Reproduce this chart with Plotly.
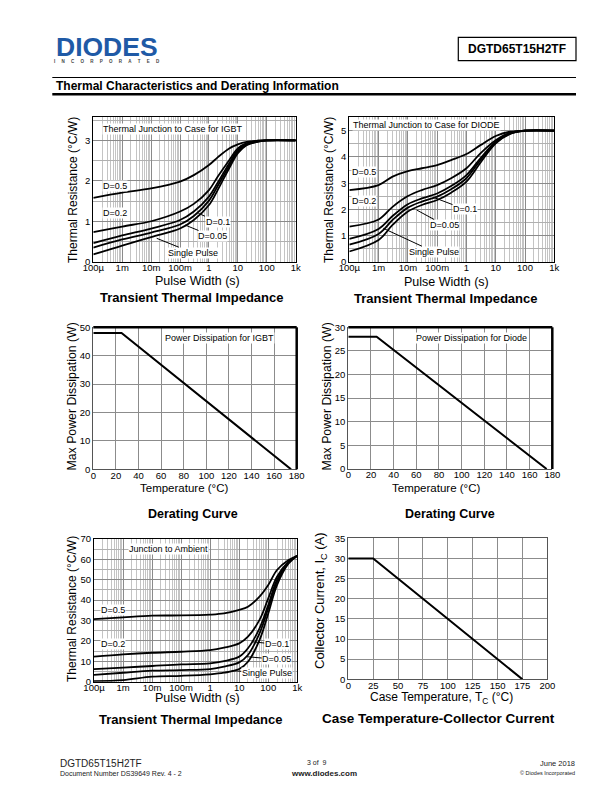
import plotly.graph_objects as go

# ---------------- data ----------------
PW_TICKVALS = [1e-4, 1e-3, 1e-2, 1e-1, 1, 10, 100, 1000]
PW_TICKTEXT = ["100µ", "1m", "10m", "100m", "1", "10", "100", "1k"]

# IGBT junction-to-case transient impedance (°C/W)
igbt_t = [1e-4, 1e-3, 1e-2, 0.1, 0.3, 1, 2, 5, 10, 20, 50, 100, 1000]
igbt_d05 = [1.58, 1.71, 1.81, 1.98, 2.14, 2.39, 2.58, 2.80, 2.90, 2.96, 2.99, 3.0, 3.0]
igbt_d02 = [0.73, 0.87, 1.00, 1.24, 1.43, 1.77, 2.10, 2.51, 2.80, 2.93, 2.99, 3.0, 3.0]
igbt_d01 = [0.46, 0.65, 0.82, 1.03, 1.24, 1.61, 1.95, 2.43, 2.76, 2.91, 2.98, 3.0, 3.0]
igbt_d005 = [0.35, 0.55, 0.72, 0.92, 1.13, 1.51, 1.87, 2.37, 2.72, 2.89, 2.97, 3.0, 3.0]
igbt_single = [0.18, 0.40, 0.61, 0.82, 1.03, 1.40, 1.77, 2.31, 2.68, 2.88, 2.97, 3.0, 3.0]

# Diode junction-to-case transient impedance (°C/W)
diode_t = [1e-4, 1e-3, 3e-3, 1e-2, 3e-2, 0.1, 0.3, 1, 3, 10, 30, 100, 1000]
diode_d05 = [2.74, 2.93, 3.25, 3.46, 3.57, 3.69, 3.88, 4.11, 4.45, 4.80, 4.96, 5.0, 5.0]
diode_d02 = [1.35, 1.62, 2.10, 2.51, 2.74, 2.93, 3.19, 3.57, 4.14, 4.64, 4.92, 5.0, 5.0]
diode_d01 = [0.88, 1.26, 1.75, 2.20, 2.42, 2.61, 2.89, 3.31, 3.95, 4.58, 4.90, 5.0, 5.0]
diode_d005 = [0.66, 1.07, 1.60, 2.07, 2.30, 2.49, 2.77, 3.19, 3.88, 4.54, 4.89, 5.0, 5.0]
diode_single = [0.40, 0.84, 1.41, 1.92, 2.17, 2.36, 2.64, 3.06, 3.78, 4.52, 4.87, 5.0, 5.0]

# Junction-to-ambient transient impedance (°C/W)
amb_t = [1e-4, 1e-3, 1e-2, 0.1, 1, 3, 10, 20, 50, 100, 200, 500, 1000]
amb_d05 = [30.7, 31.6, 32.4, 32.5, 32.9, 33.5, 35.2, 36.8, 41.7, 47.4, 54.8, 59.7, 61.8]
amb_d02 = [12.3, 13.4, 14.2, 14.7, 15.5, 16.7, 18.8, 22.1, 30.3, 40.9, 51.5, 58.9, 61.8]
amb_d01 = [6.2, 6.9, 7.7, 8.5, 9.0, 10.1, 12.3, 16.4, 26.2, 37.6, 49.9, 58.6, 61.8]
amb_d005 = [3.3, 4.4, 5.4, 5.7, 6.2, 7.4, 9.5, 13.1, 23.7, 36.0, 49.0, 58.4, 61.8]
amb_single = [0.3, 0.8, 2.5, 2.9, 3.6, 4.4, 6.2, 9.8, 20.4, 33.5, 47.4, 58.0, 61.8]

# Derating curves
temp_c = [0, 25, 175]
igbt_pd_w = [48, 48, 0]
diode_pd_w = [28, 28, 0]
ic_a = [30, 30, 0]

# ---------------- helpers ----------------
W, H = 612, 792
REG = "Liberation Sans, Arial, sans-serif"


def px(x):
    return x / W


def py(y):
    return 1 - y / H


fig = go.Figure()
annotations = []
shapes = []


def txt(x, y, s, size, bold=False, xanchor="center", angle=0,
        bg=None, color="black"):
    if bold:
        s = "<b>" + s + "</b>"
    a = dict(x=px(x), y=py(y), xref="paper", yref="paper", text=s,
             showarrow=False, xanchor=xanchor, yanchor="middle",
             textangle=angle, font=dict(size=size, family=REG, color=color))
    if bg:
        a.update(bgcolor=bg, borderpad=0)
    annotations.append(a)


def leader(tipx, tipy, tx, ty, s, size=9):
    annotations.append(dict(
        x=px(tipx), y=py(tipy), xref="paper", yref="paper", text=s,
        showarrow=True, arrowhead=0, arrowwidth=1, arrowcolor="black",
        ax=tx - tipx, ay=ty - tipy, bgcolor="white", borderpad=0,
        font=dict(size=size, family=REG, color="black")))


LAYOUT = {}


def ids(n):
    if n == 1:
        return "xaxis", "yaxis", "x", "y"
    return "xaxis%d" % n, "yaxis%d" % n, "x%d" % n, "y%d" % n


def log_axes(n, x0, x1, y0, y1, yrange, ytick, ymin):
    xa, ya, xid, yid = ids(n)
    LAYOUT[xa] = dict(
        type="log", domain=[px(x0), px(x1)], range=[-4, 3], anchor=yid,
        tickvals=PW_TICKVALS, ticktext=PW_TICKTEXT, ticks="", automargin=False,
        ticklabelstandoff=-3,
        showgrid=True, gridcolor="#8a8a8a", gridwidth=1,
        minor=dict(dtick="D1", showgrid=True, gridcolor="#c4c4c4", gridwidth=1),
        showline=True, linecolor="black", linewidth=1, mirror=True,
        zeroline=False, tickfont=dict(size=9.5, family=REG, color="black"))
    LAYOUT[ya] = dict(
        domain=[py(y1), py(y0)], range=yrange, anchor=xid, dtick=ytick,
        ticks="", showgrid=True, gridcolor="#8a8a8a", gridwidth=1, automargin=False,
        minor=dict(dtick=ymin, showgrid=True, gridcolor="#b0b0b0", gridwidth=1),
        showline=True, linecolor="black", linewidth=1, mirror=True,
        zeroline=False, tickfont=dict(size=9.5, family=REG, color="black"))
    return xid, yid


def lin_axes(n, x0, x1, y0, y1, xrange, xdt, yrange, ydt, thick=True):
    xa, ya, xid, yid = ids(n)
    LAYOUT[xa] = dict(
        domain=[px(x0), px(x1)], range=xrange, dtick=xdt, anchor=yid,
        ticks="", showgrid=True, gridcolor="#8c8c8c", gridwidth=1, automargin=False,
        ticklabelstandoff=-3,
        showline=True, linecolor="#555555", linewidth=1, mirror=not thick,
        zeroline=False, tickfont=dict(size=9.5, family=REG, color="black"))
    LAYOUT[ya] = dict(
        domain=[py(y1), py(y0)], range=yrange, dtick=ydt, anchor=xid,
        ticks="", showgrid=True, gridcolor="#8c8c8c", gridwidth=1, automargin=False,
        showline=True, linecolor="#555555", linewidth=1, mirror=not thick,
        zeroline=False, tickfont=dict(size=9.5, family=REG, color="black"))
    if thick:
        shapes.append(dict(type="line", xref="paper", yref="paper",
                           x0=px(x0), x1=px(x1), y0=py(y0), y1=py(y0),
                           line=dict(color="black", width=2.5)))
        shapes.append(dict(type="line", xref="paper", yref="paper",
                           x0=px(x1), x1=px(x1), y0=py(y0), y1=py(y1),
                           line=dict(color="black", width=2.5)))
    return xid, yid


def curves(xid, yid, t, series):
    for name, vals in series:
        fig.add_trace(go.Scatter(
            x=t, y=vals, xaxis=xid, yaxis=yid, mode="lines", name=name,
            line=dict(color="black", width=1.8, shape="spline", smoothing=1.0),
            showlegend=False, hoverinfo="skip"))


# ---------------- chart 1: IGBT transient ----------------
xid, yid = log_axes(1, 93.3, 295.7, 117.3, 261.7, [0, 3.57], 1, 0.5)
curves(xid, yid, igbt_t, [("D=0.5", igbt_d05), ("D=0.2", igbt_d02),
                          ("D=0.1", igbt_d01), ("D=0.05", igbt_d005),
                          ("Single Pulse", igbt_single)])
txt(102, 129, "Thermal Junction to Case for IGBT", 9, xanchor="left", bg="white")
txt(102, 186, "D=0.5", 9, xanchor="left", bg="white")
txt(102, 212.5, "D=0.2", 9, xanchor="left", bg="white")
leader(198.3, 213.3, 217.5, 221.7, "D=0.1")
leader(185, 225, 212, 236, "D=0.05")
leader(156.7, 238.3, 192.5, 252.7, "Single Pulse")
txt(73, 190, "Thermal Resistance (°C/W)", 12, angle=-90)
txt(197, 281, "Pulse Width (s)", 12.5)
txt(191.5, 297.5, "Transient Thermal Impedance", 13, bold=True)

# ---------------- chart 2: DIODE transient ----------------
xid, yid = log_axes(2, 349.3, 554.3, 117.3, 262, [0, 5.51], 1, 0.5)
curves(xid, yid, diode_t, [("D=0.5", diode_d05), ("D=0.2", diode_d02),
                           ("D=0.1", diode_d01), ("D=0.05", diode_d005),
                           ("Single Pulse", diode_single)])
txt(352, 125, "Thermal Junction to Case for DIODE", 9, xanchor="left", bg="white")
txt(351, 171.7, "D=0.5", 9, xanchor="left", bg="white")
txt(351, 200.7, "D=0.2", 9, xanchor="left", bg="white")
leader(433.3, 197.3, 465, 209.3, "D=0.1")
leader(416.7, 210, 444.3, 225, "D=0.05")
leader(383.3, 228.3, 433.7, 251.7, "Single Pulse")
txt(329, 190, "Thermal Resistance (°C/W)", 12, angle=-90)
txt(446, 282, "Pulse Width (s)", 12.5)
txt(446, 298.5, "Transient Thermal Impedance", 13, bold=True)

# ---------------- chart 3: IGBT derating ----------------
xid, yid = lin_axes(3, 93.3, 296.7, 327.3, 469.3, [0, 180], 20, [0, 50], 10)
fig.add_trace(go.Scatter(x=temp_c, y=igbt_pd_w, xaxis=xid, yaxis=yid,
                         mode="lines", line=dict(color="black", width=2),
                         showlegend=False, hoverinfo="skip"))
txt(219, 338.3, "Power Dissipation for IGBT", 9, bg="white")
txt(71, 396.5, "Max Power Dissipation (W)", 12.3, angle=-90)
txt(184, 488, "Temperature (°C)", 11.5)
txt(192.5, 514, "Derating Curve", 12.5, bold=True)

# ---------------- chart 4: Diode derating ----------------
xid, yid = lin_axes(4, 348.3, 552.3, 327.3, 469, [0, 180], 20, [0, 30], 5)
fig.add_trace(go.Scatter(x=temp_c, y=diode_pd_w, xaxis=xid, yaxis=yid,
                         mode="lines", line=dict(color="black", width=2),
                         showlegend=False, hoverinfo="skip"))
txt(471.7, 338.3, "Power Dissipation for Diode", 9, bg="white")
txt(326, 396.5, "Max Power Dissipation (W)", 12.3, angle=-90)
txt(436, 488, "Temperature (°C)", 11.5)
txt(449.5, 514, "Derating Curve", 12.5, bold=True)

# ---------------- chart 5: junction to ambient ----------------
xid, yid = log_axes(5, 94, 297.3, 539, 681.7, [0, 70], 10, 5)
curves(xid, yid, amb_t, [("D=0.5", amb_d05), ("D=0.2", amb_d02),
                         ("D=0.1", amb_d01), ("D=0.05", amb_d005),
                         ("Single Pulse", amb_single)])
txt(168, 549, "Junction to Ambient", 9, bg="white")
txt(100, 610, "D=0.5", 9, xanchor="left", bg="white")
txt(100, 644, "D=0.2", 9, xanchor="left", bg="white")
leader(251.7, 641.7, 276.7, 644.3, "D=0.1")
leader(246.7, 656.7, 276.7, 659.3, "D=0.05")
leader(231.7, 670.7, 266.7, 672.7, "Single Pulse")
txt(72, 609, "Thermal Resistance (°C/W)", 12, angle=-90)
txt(197, 697.5, "Pulse Width (s)", 12.5)
txt(191, 719.5, "Transient Thermal Impedance", 13, bold=True)

# ---------------- chart 6: collector current ----------------
xid, yid = lin_axes(6, 348.3, 547.3, 538.3, 679.3, [0, 200], 25, [0, 35], 5,
                    thick=False)
fig.add_trace(go.Scatter(x=temp_c, y=ic_a, xaxis=xid, yaxis=yid,
                         mode="lines", line=dict(color="black", width=2),
                         showlegend=False, hoverinfo="skip"))
txt(320, 601, "Collector Current, I<sub>C</sub> (A)", 13, angle=-90)
txt(441, 698, "Case Temperature, T<sub>C</sub> (°C)", 12)
txt(438.5, 718, "Case Temperature-Collector Current", 13.5, bold=True)

# ---------------- page header / footer ----------------
txt(107.5, 46.5, "DIODES", 26.5, bold=True, color="#1f5aa6")
txt(107, 61.5, ("\u00a0" * 5).join("INCORPORATED"), 4.5, bold=True, color="#444444")
shapes.append(dict(type="rect", xref="paper", yref="paper",
                   x0=px(458.3), x1=px(576), y0=py(37.3), y1=py(60.7),
                   line=dict(color="black", width=1.2)))
txt(517, 49, "DGTD65T15H2TF", 12, bold=True)
shapes.append(dict(type="line", xref="paper", yref="paper",
                   x0=px(52.3), x1=px(576), y0=py(77.5), y1=py(77.5),
                   line=dict(color="black", width=1)))
txt(53.5, 86, "Thermal Characteristics and Derating Information", 12,
    bold=True, xanchor="left")
shapes.append(dict(type="line", xref="paper", yref="paper",
                   x0=px(52.3), x1=px(576), y0=py(94.3), y1=py(94.3),
                   line=dict(color="black", width=2.5)))

txt(58, 763, "DGTD65T15H2TF", 10, xanchor="left", color="#222222")
txt(58, 773.5, "Document Number DS39649 Rev. 4 - 2", 7, xanchor="left", color="#222222")
txt(317, 762, "3 of  9", 7, color="#222222")
txt(324, 773, "www.diodes.com", 8, bold=True, color="#222222")
txt(577, 763, "June 2018", 7.5, xanchor="right", color="#222222")
txt(577, 773, "© Diodes Incorporated", 5.5, xanchor="right", color="#222222")

fig.update_layout(
    width=W, height=H, margin=dict(l=0, r=0, t=0, b=0, pad=0, autoexpand=False),
    paper_bgcolor="white", plot_bgcolor="white",
    font=dict(family=REG, color="black"),
    annotations=annotations, shapes=shapes, showlegend=False,
    **LAYOUT)

fig.write_html("out.html", config={"displayModeBar": False},
               post_script="document.body.style.margin='0';"
                           "document.body.style.padding='0';")
